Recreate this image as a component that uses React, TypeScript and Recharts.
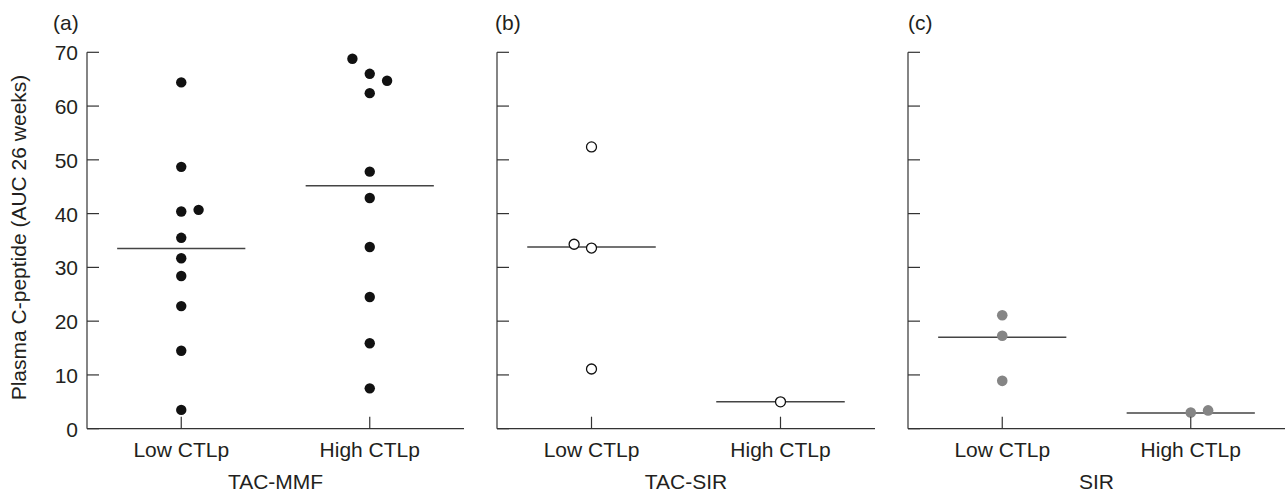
import React from 'react';
import { ScatterChart, Scatter, XAxis, YAxis, ReferenceLine } from 'recharts';

// ---- data ----
const categories = ['Low CTLp', 'High CTLp'];
const panelTitles = ['TAC-MMF', 'TAC-SIR', 'SIR'];
const panelLetters = ['(a)', '(b)', '(c)'];
const yTicks = [0, 10, 20, 30, 40, 50, 60, 70];
const yLabel = 'Plasma C-peptide (AUC 26 weeks)';

// values per group; "col" = side-by-side column (-1 left, 0 centre, 1 right) for overlapping points
const mmfLow = [64.4, 48.7, 40.4, 40.7, 35.5, 31.7, 28.4, 22.8, 14.5, 3.5];
const mmfLowCol = [0, 0, 0, 1, 0, 0, 0, 0, 0, 0];
const mmfHigh = [68.8, 66.0, 64.7, 62.4, 47.8, 42.9, 33.8, 24.5, 15.9, 7.5];
const mmfHighCol = [-1, 0, 1, 0, 0, 0, 0, 0, 0, 0];
const mmfMedians = [33.5, 45.2];

const tacSirLow = [52.4, 34.3, 33.6, 11.1];
const tacSirLowCol = [0, -1, 0, 0];
const tacSirHigh = [5.0];
const tacSirHighCol = [0];
const tacSirMedians = [33.8, 5.0];

const sirLow = [21.1, 17.3, 8.9];
const sirLowCol = [0, 0, 0];
const sirHigh = [3.0, 3.4];
const sirHighCol = [0, 1];
const sirMedians = [17.0, 2.9];

// ---- layout constants ----
const COL_STEP = 0.092;
const MEDIAN_HALF = 0.34;
const FONT = '"Liberation Sans", Arial, Helvetica, sans-serif';
const FS = 21;
const TEXT = '#231f20';
const AXIS = '#333';

const build = (low: number[], lowCol: number[], high: number[], highCol: number[]) => [
  ...low.map((v, i) => ({ x: 0.5 + lowCol[i] * COL_STEP, y: v })),
  ...high.map((v, i) => ({ x: 1.5 + highCol[i] * COL_STEP, y: v })),
];

const panels = [
  {
    data: build(mmfLow, mmfLowCol, mmfHigh, mmfHighCol),
    medians: mmfMedians,
    fill: '#111', stroke: 'none', sw: 0, r: 5.2,
    left: 0, width: 470, yw: 87, right: 6, labels: true,
  },
  {
    data: build(tacSirLow, tacSirLowCol, tacSirHigh, tacSirHighCol),
    medians: tacSirMedians,
    fill: '#fff', stroke: '#111', sw: 1.3, r: 5,
    left: 440, width: 440, yw: 57, right: 5, labels: false,
  },
  {
    data: build(sirLow, sirLowCol, sirHigh, sirHighCol),
    medians: sirMedians,
    fill: '#858585', stroke: 'none', sw: 0, r: 5.3,
    left: 880, width: 405, yw: 28, right: 0, labels: false,
  },
];

const XTick = (props: any) => {
  const { x, y, payload } = props;
  const idx = Math.round(payload.value - 0.5);
  return (
    <g>
      <line x1={x} x2={x} y1={y} y2={y - 12} stroke={AXIS} strokeWidth={1.2} />
      <text x={x} y={y + 28} textAnchor="middle" fill={TEXT} fontSize={FS} fontFamily={FONT}>
        {categories[idx]}
      </text>
    </g>
  );
};

const makeYTick = (showLabel: boolean) => (props: any) => {
  const { x, y, payload } = props;
  return (
    <g>
      <line x1={x} x2={x + 12} y1={y} y2={y} stroke={AXIS} strokeWidth={1.2} />
      {showLabel && (
        <text x={x - 9} y={y + 8} textAnchor="end" fill={TEXT} fontSize={FS} fontFamily={FONT}>
          {payload.value}
        </text>
      )}
    </g>
  );
};

const YLabelContent = (props: any) => {
  const vb = props.viewBox || { x: 0, y: 52, width: 87, height: 376 };
  const cx = 18;
  const cy = vb.y + vb.height / 2 - 3;
  return (
    <text
      x={cx}
      y={cy}
      transform={`rotate(-90, ${cx}, ${cy})`}
      textAnchor="middle"
      dominantBaseline="central"
      fill={TEXT}
      fontSize={FS}
      fontFamily={FONT}
    >
      {yLabel}
    </text>
  );
};

const letterPos = [53, 495, 908];

export default function App() {
  return (
    <div style={{ position: 'absolute', left: 0, top: 0, width: 1285, height: 494, background: '#fff' }}>
      {panels.map((p, pi) => (
        <div key={pi} style={{ position: 'absolute', left: p.left, top: 0 }}>
          <ScatterChart
            width={p.width}
            height={494}
            margin={{ top: 52.3, right: p.right, bottom: 0, left: 0 }}
          >
            <XAxis
              type="number"
              dataKey="x"
              domain={[0, 2]}
              ticks={[0.5, 1.5]}
              height={65.3}
              tickSize={0}
              tickMargin={0}
              tickLine={false}
              tick={<XTick />}
              axisLine={{ stroke: AXIS, strokeWidth: 1.2 }}
              label={{
                value: panelTitles[pi],
                position: 'insideBottom',
                offset: 5,
                fill: TEXT,
                fontSize: FS,
                fontFamily: FONT,
              }}
              allowDataOverflow
            />
            <YAxis
              type="number"
              dataKey="y"
              domain={[0, 70]}
              ticks={yTicks}
              width={p.yw}
              tickSize={0}
              tickMargin={0}
              tickLine={false}
              tick={makeYTick(p.labels)}
              axisLine={{ stroke: AXIS, strokeWidth: 1.2 }}
              label={p.labels ? { content: <YLabelContent /> } : undefined}
              allowDataOverflow
            />
            {p.medians.map((m, mi) => (
              <ReferenceLine
                key={mi}
                segment={[
                  { x: 0.5 + mi - MEDIAN_HALF, y: m },
                  { x: 0.5 + mi + MEDIAN_HALF, y: m },
                ]}
                stroke="#444"
                strokeWidth={1.5}
              />
            ))}
            <Scatter
              data={p.data}
              isAnimationActive={false}
              shape={(s: any) => (
                <circle cx={s.cx} cy={s.cy} r={p.r} fill={p.fill} stroke={p.stroke} strokeWidth={p.sw} />
              )}
            />
          </ScatterChart>
        </div>
      ))}
      {panelLetters.map((l, i) => (
        <div
          key={l}
          style={{
            position: 'absolute',
            left: letterPos[i],
            top: 10,
            fontSize: FS,
            fontFamily: FONT,
            color: TEXT,
            lineHeight: '26px',
          }}
        >
          {l}
        </div>
      ))}
    </div>
  );
}
